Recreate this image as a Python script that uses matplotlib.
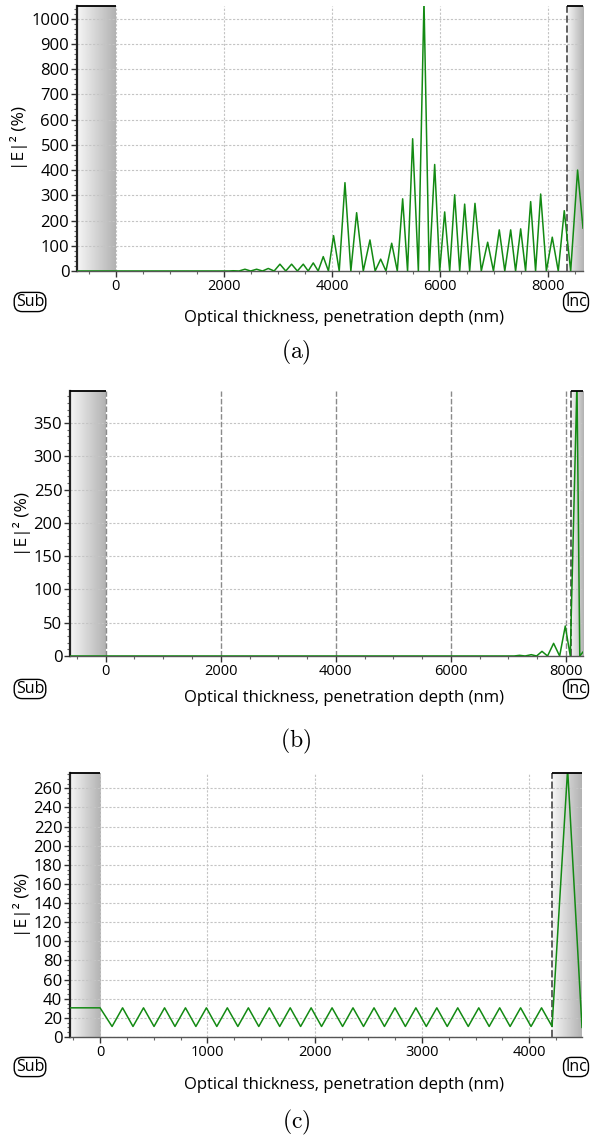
import matplotlib.pyplot as plt
import numpy as np
from matplotlib.colors import LinearSegmentedColormap
from matplotlib.ticker import MultipleLocator

plt.rcParams['font.family'] = ['Open Sans', 'DejaVu Sans']
plt.rcParams['mathtext.fontset'] = 'cm'

# ---- data: (a) peaks / troughs
a_x = [-720, 2100, 2173, 2280, 2389, 2495, 2605, 2715, 2821, 2930, 3037, 3145,
       3253, 3360, 3469, 3560, 3654, 3745, 3839, 3935, 4030, 4135, 4241, 4350,
       4457, 4580, 4704, 4800, 4902, 5000, 5106, 5210, 5309, 5400, 5494, 5600,
       5704, 5800, 5902, 5995, 6087, 6180, 6272, 6365, 6457, 6550, 6648, 6765,
       6883, 6990, 7098, 7200, 7309, 7400, 7494, 7585, 7679, 7770, 7864, 7970,
       8079, 8190, 8301, 8420, 8548, 8648]
a_y = [0, 0, 1, 0, 7, 0, 7, 0, 10, 0, 27, 0,
       27, 0, 27, 0, 32, 0, 57, 0, 140, 0, 350, 0,
       231, 0, 123, 0, 47, 0, 110, 0, 286, 0, 524, 0,
       1070, 0, 422, 0, 234, 0, 302, 0, 265, 0, 268, 0,
       114, 0, 163, 0, 163, 0, 167, 0, 275, 0, 305, 0,
       134, 0, 239, 0, 400, 170]

# ---- (b)
b_x = [-620, 7100, 7193, 7290, 7397, 7490, 7583, 7680, 7785, 7890, 7988, 8075,
       8191, 8240, 8296]
b_y = [0, 0, 1, 0, 2, 0, 7, 0, 19, 0, 45, 0, 410, 0, 6]

# ---- (c)
c_x = [-280, 0, 112, 210, 307, 405, 503, 601, 698, 796, 893, 991, 1088, 1186,
       1284, 1382, 1479, 1577, 1674, 1772, 1869, 1967, 2064, 2162, 2260, 2357,
       2455, 2553, 2650, 2748, 2845, 2943, 3040, 3138, 3235, 3333, 3431, 3529,
       3626, 3724, 3821, 3919, 4016, 4114, 4212, 4357, 4491]
c_y = [30.5, 30.5] + [11, 30.5] * 21 + [11, 280, 10]

# substrate / incident medium boundaries and axis ranges
sub_end = [0, 0, 0]
inc_start = [8350, 8087, 4212]
x_lims = [(-720, 8648), (-620, 8296), (-280, 4491)]
y_lims = [(0, 1050), (0, 398), (0, 276)]
x_major = [2000, 2000, 1000]
x_minor = [500, 500, 250]
y_major = [100, 50, 20]
y_minor = [20, 10, 5]
captions = ['(a)', '(b)', '(c)']

W, H = 590, 1146
fig = plt.figure(figsize=(W / 100, H / 100), dpi=100)

# axes boxes in pixels: left, top, right, bottom
boxes = [(77, 6, 583, 271), (70, 391, 583, 656), (70, 773, 582, 1037)]
sub_lbl_y = [302, 689, 1067]
xlabel_y = [310, 690, 1077]
cap_y = [352, 741, 1122]

shade = LinearSegmentedColormap.from_list('shade', ['#f6f6f6', '#b2b2b2'])
grad = np.linspace(0, 1, 256).reshape(1, -1)

series = [(a_x, a_y), (b_x, b_y), (c_x, c_y)]

for i, (xs, ys) in enumerate(series):
    l, t, r, b = boxes[i]
    ax = fig.add_axes([l / W, 1 - b / H, (r - l) / W, (b - t) / H])
    x0, x1 = x_lims[i]
    y0, y1 = y_lims[i]

    # shaded substrate and incident medium
    ax.imshow(grad, cmap=shade, extent=[x0, sub_end[i], y0, y1], aspect='auto', zorder=0)
    ax.imshow(grad, cmap=shade, extent=[inc_start[i], x1, y0, y1], aspect='auto', zorder=0)
    ax.hlines(y1, x0, sub_end[i], color='black', lw=1.3, clip_on=False, zorder=5)
    ax.hlines(y1, inc_start[i], x1, color='black', lw=1.3, clip_on=False, zorder=5)
    ax.axvline(inc_start[i], color='#555555', lw=1.3, ls=(0, (4, 1.5)), zorder=2)

    ax.plot(xs, ys, color='#138a13', lw=1.1, zorder=4, solid_joinstyle='round')

    ax.set_xlim(x0, x1)
    ax.set_ylim(y0, y1)
    ax.xaxis.set_major_locator(MultipleLocator(x_major[i]))
    ax.xaxis.set_minor_locator(MultipleLocator(x_minor[i]))
    ax.yaxis.set_major_locator(MultipleLocator(y_major[i]))
    ax.yaxis.set_minor_locator(MultipleLocator(y_minor[i]))

    ax.yaxis.grid(True, color='#c4c4c4', ls=(0, (2, 1.5)), lw=0.8)
    if i == 1:
        ax.xaxis.grid(True, color='#8a8a8a', ls=(0, (4, 1.5)), lw=1.0)
    else:
        ax.xaxis.grid(True, color='#c4c4c4', ls=(0, (2, 1.5)), lw=0.8)
    ax.set_axisbelow(True)

    for s in ['top', 'right']:
        ax.spines[s].set_visible(False)
    ax.spines['left'].set_color('#222222')
    ax.spines['left'].set_linewidth(1.6)
    ax.spines['bottom'].set_color('#555555')
    ax.spines['bottom'].set_linewidth(1.0)

    ax.tick_params(which='major', direction='out', length=4, width=1,
                   pad=1.5, colors='#333333', labelcolor='black')
    ax.tick_params(axis='x', which='major', labelsize=10.5)
    ax.tick_params(axis='y', which='major', labelsize=12)
    ax.tick_params(which='minor', direction='out', length=2.5, width=0.8, colors='#666666')

    ax.set_ylabel('|E|² (%)', fontsize=12.5, labelpad=2)
    ax.set_xlabel('Optical thickness, penetration depth (nm)', fontsize=12)
    ax.xaxis.set_label_coords((344 - l) / (r - l), (b - xlabel_y[i]) / (b - t))

    box = dict(boxstyle='round,pad=0.1,rounding_size=0.5', fc='white', ec='black', lw=1)
    fig.text(30 / W, 1 - sub_lbl_y[i] / H, 'Sub', ha='center', va='center',
             fontsize=11.5, bbox=box)
    fig.text(576 / W, 1 - sub_lbl_y[i] / H, 'Inc', ha='center', va='center',
             fontsize=11.5, bbox=box)
    fig.text(296 / W, 1 - cap_y[i] / H, r'$\mathrm{' + captions[i] + '}$',
             ha='center', va='center', fontsize=17)

fig.savefig('out.png', dpi=100)
